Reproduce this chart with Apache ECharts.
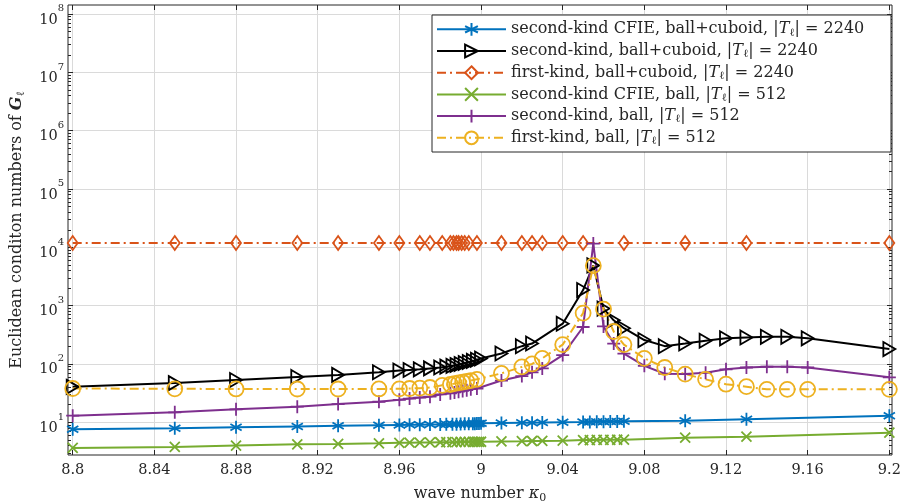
<!DOCTYPE html>
<html>
<head>
<meta charset="utf-8">
<script src="https://cdn.jsdelivr.net/npm/echarts@6/dist/echarts.min.js"></script>
<style>
  html, body { margin: 0; padding: 0; background: #fff; }
  #chart { width: 900px; height: 504px; }
</style>
</head>
<body>
<div id="chart"></div>
<script>
// ---- axis ticks -------------------------------------------------------
const xTickValues = [8.8, 8.84, 8.88, 8.92, 8.96, 9, 9.04, 9.08, 9.12, 9.16, 9.2];
const yTickValues = [1e1, 1e2, 1e3, 1e4, 1e5, 1e6, 1e7, 1e8];
const yMinorValues = [];
for (let e = 0; e < 8; e++) for (let m = 2; m <= 9; m++) yMinorValues.push(m * Math.pow(10, e));
const xRange = [8.7977, 9.2013];
const yRange = [Math.pow(10, 0.4394), Math.pow(10, 8.1543)];

// ---- series data --------------------------------------------------------
// second-kind CFIE, ball+cuboid
const cfieCuboidX = [8.8, 8.85, 8.88, 8.91, 8.93, 8.95, 8.96, 8.965, 8.97, 8.975, 8.98, 8.983, 8.986, 8.988, 8.99, 8.992, 8.994, 8.996, 8.997, 8.998, 8.999, 9.0, 9.01, 9.02, 9.025, 9.03, 9.04, 9.05, 9.0533, 9.0567, 9.06, 9.0633, 9.0667, 9.07, 9.1, 9.13, 9.2];
const cfieCuboidY = [7.6, 7.9, 8.2, 8.5, 8.7, 8.9, 9.0, 9.05, 9.1, 9.15, 9.2, 9.25, 9.3, 9.3, 9.35, 9.4, 9.4, 9.45, 9.45, 9.5, 9.5, 9.6, 9.7, 9.8, 9.85, 9.9, 10.0, 10.1, 10.15, 10.2, 10.25, 10.3, 10.35, 10.4, 10.6, 11.3, 13.0];

// second-kind, ball+cuboid
const secondCuboidX = [8.8, 8.85, 8.88, 8.91, 8.93, 8.95, 8.96, 8.965, 8.97, 8.975, 8.98, 8.983, 8.986, 8.988, 8.99, 8.992, 8.994, 8.996, 8.998, 9.0, 9.01, 9.02, 9.025, 9.04, 9.05, 9.055, 9.06, 9.065, 9.07, 9.08, 9.09, 9.1, 9.11, 9.12, 9.13, 9.14, 9.15, 9.16, 9.2];
const secondCuboidY = [40.5, 47, 53, 60, 65, 72, 77, 79, 81, 84, 87, 90, 93, 96, 100, 104, 108, 113, 118, 124, 151, 202, 224, 490, 1850, 4900, 890, 560, 410, 257, 202, 224, 250, 275, 285, 292, 292, 275, 180];

// first-kind, ball+cuboid
const firstCuboidX = [8.8, 8.85, 8.88, 8.91, 8.93, 8.95, 8.96, 8.97, 8.975, 8.981, 8.985, 8.9865, 8.988, 8.989, 8.9905, 8.992, 8.994, 8.998, 9.01, 9.02, 9.025, 9.03, 9.04, 9.05, 9.07, 9.1, 9.13, 9.2];
const firstCuboidY = [11900, 11900, 11900, 11900, 11900, 11900, 11900, 11900, 11900, 11900, 11900, 11900, 11900, 11900, 11900, 11900, 11900, 11900, 11900, 11900, 11900, 11900, 11900, 11900, 11900, 11900, 11900, 11900];

// second-kind CFIE, ball
const cfieBallX = [8.8, 8.85, 8.88, 8.91, 8.93, 8.95, 8.96, 8.965, 8.97, 8.975, 8.98, 8.983, 8.986, 8.988, 8.99, 8.992, 8.994, 8.996, 8.997, 8.998, 8.999, 9.0, 9.01, 9.02, 9.025, 9.03, 9.04, 9.05, 9.0533, 9.0567, 9.06, 9.0633, 9.0667, 9.07, 9.1, 9.13, 9.2];
const cfieBallY = [3.63, 3.78, 4.0, 4.2, 4.25, 4.36, 4.45, 4.47, 4.5, 4.52, 4.55, 4.56, 4.57, 4.58, 4.6, 4.6, 4.61, 4.62, 4.62, 4.63, 4.63, 4.64, 4.7, 4.75, 4.78, 4.8, 4.85, 4.95, 4.96, 4.98, 5.0, 5.0, 5.02, 5.04, 5.45, 5.66, 6.64];

// second-kind, ball
const secondBallX = [8.8, 8.85, 8.88, 8.91, 8.93, 8.95, 8.96, 8.965, 8.97, 8.975, 8.98, 8.985, 8.987, 8.989, 8.991, 8.993, 8.995, 8.998, 9.01, 9.02, 9.025, 9.03, 9.04, 9.05, 9.055, 9.06, 9.065, 9.07, 9.08, 9.09, 9.1, 9.11, 9.12, 9.13, 9.14, 9.15, 9.16, 9.2];
const secondBallY = [13, 14.8, 16.7, 18.5, 20.5, 22.5, 24.3, 25.5, 26.5, 27.5, 30, 31.5, 32.5, 33.5, 34.5, 35.5, 37, 38, 52, 62, 72, 84, 142, 430, 11600, 440, 224, 151, 93, 68, 67, 71, 81, 87, 89.6, 89.6, 87, 59];

// first-kind, ball
const firstBallX = [8.8, 8.85, 8.88, 8.91, 8.93, 8.95, 8.96, 8.965, 8.97, 8.975, 8.981, 8.985, 8.987, 8.989, 8.991, 8.993, 8.995, 8.998, 9.01, 9.02, 9.025, 9.03, 9.04, 9.05, 9.055, 9.06, 9.065, 9.07, 9.08, 9.09, 9.1, 9.11, 9.12, 9.13, 9.14, 9.15, 9.16, 9.2];
const firstBallY = [38, 37.5, 37.3, 37.2, 37.2, 37.3, 37.5, 38, 38.5, 39.5, 43, 44.5, 46, 47.5, 49, 50.5, 52, 54.5, 69, 89, 100, 125, 215, 745, 4850, 870, 360, 215, 125, 87, 67, 54.5, 45, 40.8, 36.7, 36.7, 36.7, 36.7];

const meshSize = {
  'second-kind CFIE, ball+cuboid': 2240,
  'second-kind, ball+cuboid': 2240,
  'first-kind, ball+cuboid': 2240,
  'second-kind CFIE, ball': 512,
  'second-kind, ball': 512,
  'first-kind, ball': 512
};

// ---- styling --------------------------------------------------------------
const FONT = 'DejaVu Serif';
const FS = 14.5;      // tick labels
const FS_TEXT = 16;   // legend and axis titles
const INK = '#262626';
const GRIDC = '#dadada';

const SYM_ASTERISK = 'path://M10,0L10,20M1.34,5L18.66,15M1.34,15L18.66,5';
const SYM_X = 'path://M0,0L10,10M0,10L10,0';
const SYM_PLUS = 'path://M5,0L5,10M0,5L10,5';
const SYM_TRI = 'path://M0,0L12,7L0,14Z';
const DASHDOT = [9, 4, 2, 4];

function pairs(xs, ys) { return xs.map((x, i) => [x, ys[i]]); }

function makeSeries(name, xs, ys, color, symbol, size, dashed) {
  return {
    type: 'line',
    name: name,
    data: pairs(xs, ys),
    xAxisIndex: 0,
    yAxisIndex: 0,
    symbol: symbol,
    symbolSize: size,
    symbolKeepAspect: true,
    showSymbol: true,
    showAllSymbol: true,
    animation: false,
    silent: true,
    lineStyle: { color: color, width: 2, type: dashed ? DASHDOT : 'solid' },
    itemStyle: { color: 'rgba(255,255,255,0)', borderColor: color, borderWidth: 1.8 },
    emphasis: { disabled: true }
  };
}

const series = [
  makeSeries('second-kind CFIE, ball+cuboid', cfieCuboidX, cfieCuboidY, '#0072BD', SYM_ASTERISK, 13, false),
  makeSeries('second-kind, ball+cuboid', secondCuboidX, secondCuboidY, '#000000', SYM_TRI, 14, false),
  makeSeries('first-kind, ball+cuboid', firstCuboidX, firstCuboidY, '#D95319', 'diamond', [10, 14], true),
  makeSeries('second-kind CFIE, ball', cfieBallX, cfieBallY, '#77AC30', SYM_X, 10, false),
  makeSeries('second-kind, ball', secondBallX, secondBallY, '#7E2F8E', SYM_PLUS, 13, false),
  makeSeries('first-kind, ball', firstBallX, firstBallY, '#EDB120', 'circle', 15, true)
];

const textBase = { fontFamily: FONT, fontSize: FS, color: INK };
const titleBase = { fontFamily: FONT, fontSize: FS_TEXT, color: INK };

function ticksOnly(pos, type, range, values, len) {
  return {
    type: type,
    position: pos,
    min: range[0],
    max: range[1],
    logBase: 10,
    axisLine: { show: false },
    axisLabel: { show: false },
    splitLine: { show: false },
    axisTick: { show: true, inside: true, length: len, customValues: values, lineStyle: { color: INK, width: 1 } }
  };
}

const chart = echarts.init(document.getElementById('chart'), null, { renderer: 'canvas' });
chart.setOption({
  animation: false,
  backgroundColor: '#fff',
  grid: {
    left: 68, top: 5, width: 824, height: 450,
    outerBoundsMode: 'none',
    containLabel: false,
    show: true, borderColor: INK, borderWidth: 1, backgroundColor: 'rgba(0,0,0,0)'
  },
  xAxis: [
    {
      type: 'value',
      position: 'bottom',
      min: xRange[0],
      max: xRange[1],
      axisLine: { show: false },
      axisTick: { show: true, inside: true, length: 5, customValues: xTickValues, lineStyle: { color: INK } },
      axisLabel: {
        customValues: xTickValues,
        margin: 8,
        ...textBase,
        formatter: v => String(+(+v).toFixed(2))
      },
      splitLine: { show: true, lineStyle: { color: GRIDC, width: 1 } },
      name: '{n|wave number }{k|κ}{s|0}',
      nameLocation: 'middle',
      nameGap: 29,
      nameTextStyle: {
        ...titleBase,
        rich: {
          n: { ...titleBase, lineHeight: 20 },
          k: { ...titleBase, fontStyle: 'italic', lineHeight: 20 },
          s: { fontFamily: FONT, fontSize: 11, color: INK, lineHeight: 10, verticalAlign: 'bottom' }
        }
      }
    },
    ticksOnly('top', 'value', xRange, xTickValues, 5)
  ],
  yAxis: [
    {
      type: 'log',
      logBase: 10,
      position: 'left',
      min: yRange[0],
      max: yRange[1],
      axisLine: { show: false },
      axisTick: { show: true, inside: true, length: 5, customValues: yTickValues, lineStyle: { color: INK } },
      axisLabel: {
        customValues: yTickValues,
        margin: 4,
        padding: [3, 0, 0, 0],
        ...textBase,
        formatter: v => '{b|10}{e|' + Math.round(Math.log10(v)) + '}',
        rich: {
          b: { ...textBase, lineHeight: 17, verticalAlign: 'bottom' },
          e: { fontFamily: FONT, fontSize: 10, color: INK, lineHeight: 23.5, verticalAlign: 'top' }
        }
      },
      splitLine: { show: true, lineStyle: { color: GRIDC, width: 1 } },
      minorTick: { show: false },
      name: '{n|Euclidean conditon numbers of }{g|G}{s|ℓ}',
      nameLocation: 'middle',
      nameRotate: 90,
      nameGap: 41,
      nameTextStyle: {
        ...titleBase,
        rich: {
          n: { ...titleBase, lineHeight: 20 },
          g: { ...titleBase, fontWeight: 'bold', fontStyle: 'italic', lineHeight: 20 },
          s: { fontFamily: FONT, fontSize: 11, color: INK, lineHeight: 10, verticalAlign: 'bottom' }
        }
      }
    },
    ticksOnly('right', 'log', yRange, yTickValues, 5),
    ticksOnly('left', 'log', yRange, yMinorValues, 3),
    ticksOnly('right', 'log', yRange, yMinorValues, 3)
  ],
  legend: {
    orient: 'vertical',
    left: 432,
    top: 15,
    z: 6,
    padding: [5.3, 10, 5.3, 4],
    itemWidth: 69,
    itemHeight: 16,
    itemGap: 3.7,
    selectedMode: false,
    data: series.map(s => s.name),
    textStyle: {
      ...titleBase,
      lineHeight: 18,
      rich: {
        n: { ...titleBase, lineHeight: 18 },
        t: { ...titleBase, fontStyle: 'italic', lineHeight: 18 },
        l: { fontFamily: FONT, fontSize: 11, color: INK, lineHeight: 10, verticalAlign: 'bottom' }
      }
    },
    formatter: name => '{n|' + name + ', |}{t|T}{l|ℓ}{n|| = ' + meshSize[name] + '}'
  },
  graphic: [{
    type: 'rect',
    z: 5,
    shape: { x: 432, y: 15, width: 459, height: 137 },
    style: { fill: '#fff', stroke: INK, lineWidth: 1 }
  }],
  series: series
});
</script>
</body>
</html>
